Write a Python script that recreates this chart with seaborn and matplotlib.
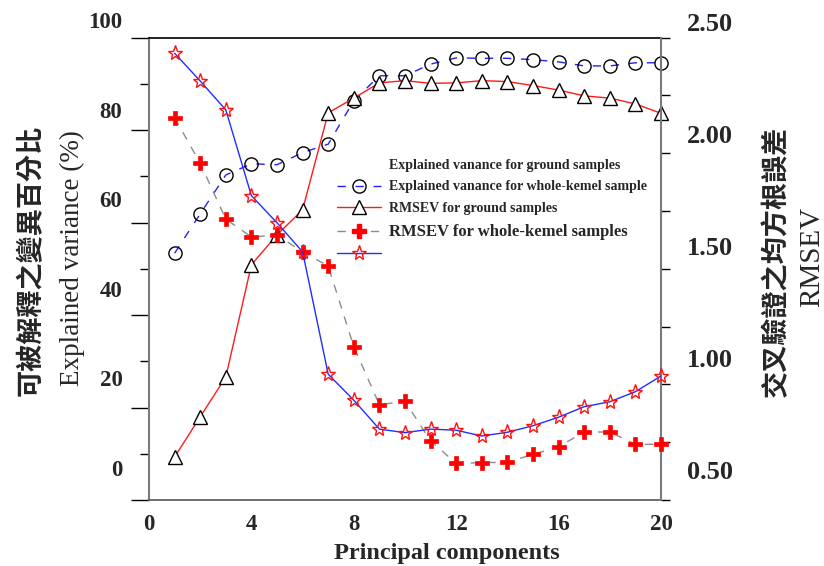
import matplotlib
matplotlib.use("Agg")
import matplotlib.pyplot as plt
from matplotlib.lines import Line2D
import numpy as np
import seaborn as sns

# principal component number
pcs = list(range(1, 21))

# left axis: explained variance (%)
var_circles = [48.5, 57.3, 66.0, 68.5, 68.3, 71.0, 72.9, 82.6, 88.2, 88.2,
               90.8, 92.2, 92.1, 92.1, 91.8, 91.3, 90.4, 90.4, 91.1, 91.1]
var_triangles = [2.9, 11.9, 20.8, 45.9, 52.6, 58.2, 79.9, 83.2, 86.6, 87.1,
                 86.5, 86.6, 87.1, 86.9, 86.0, 85.0, 83.7, 83.2, 81.9, 79.8]

# right axis: RMSEV
rmsev_plus = [2.086, 1.883, 1.633, 1.554, 1.562, 1.487, 1.424, 1.064, 0.805, 0.820,
              0.643, 0.543, 0.546, 0.548, 0.583, 0.617, 0.683, 0.683, 0.628, 0.628]
rmsev_stars = [2.374, 2.250, 2.121, 1.738, 1.617, 1.487, 0.941, 0.825, 0.696, 0.680,
               0.696, 0.691, 0.665, 0.682, 0.711, 0.749, 0.796, 0.818, 0.863, 0.933]

left_labels = [0, 20, 40, 60, 80, 100]
right_labels = [0.50, 1.00, 1.50, 2.00, 2.50]
x_labels = [0, 4, 8, 12, 16, 20]

legend_texts = ["Explained vanance for ground samples",
                "Explained vanance for whole-kemel sample",
                "RMSEV for ground samples",
                "RMSEV for whole-kemel samples"]

sns.set_style("white")
plt.rcParams['font.family'] = ['Liberation Serif', 'DejaVu Serif']
cjk = ['Noto Sans CJK TC', 'DejaVu Sans']

fig = plt.figure(figsize=(8.24, 5.66), dpi=100)
ax = fig.add_axes([149 / 824, 1 - 500 / 566, 512 / 824, 462.3 / 566])
ax2 = ax.twinx()

# left series
sns.lineplot(x=pcs, y=var_circles, ax=ax, color='#2222ee', lw=1.0,
             linestyle=(0, (6, 7)), marker='o', markersize=9.5,
             markerfacecolor='none', markeredgecolor='black', mew=1.0,
             clip_on=False, zorder=3)
sns.lineplot(x=pcs, y=var_triangles, ax=ax, color='#ff1a1a', lw=1.0,
             marker='^', markersize=9.5, markerfacecolor='white',
             markeredgecolor='black', mew=1.0, clip_on=False, zorder=3)

# right series
sns.lineplot(x=pcs, y=rmsev_plus, ax=ax2, color='#8c8c8c', lw=1.0,
             linestyle=(0, (6, 6)), marker='P', markersize=10,
             markerfacecolor='#ff0000', markeredgecolor='#ff0000', mew=0.5,
             clip_on=False, zorder=3)
sns.lineplot(x=pcs, y=rmsev_stars, ax=ax2, color='#1f2fff', lw=1.0,
             marker='*', markersize=11, markerfacecolor='none',
             markeredgecolor='#ff1010', mew=1.0, clip_on=False, zorder=4)

ax.set_xlim(0, 20)
ylo, yhi = (470 - 500) / 4.47, (470 - 37.7) / 4.47
ax.set_ylim(ylo, yhi)
rlo, rhi = 0.5 + (473 - 500) / 224, 0.5 + (473 - 37.7) / 224
ax2.set_ylim(rlo, rhi)

# spines
for side in ['left', 'right', 'top', 'bottom']:
    ax2.spines[side].set_visible(False)
ax.spines['right'].set_visible(False)
ax2.spines['right'].set_visible(True)
ax2.spines['right'].set_color('#7a7a7a')
ax2.spines['right'].set_linewidth(1.5)
ax.spines['left'].set_color('#7a7a7a')
ax.spines['left'].set_linewidth(1.5)
ax.spines['bottom'].set_color('#555555')
ax.spines['bottom'].set_linewidth(1.2)
ax.spines['top'].set_color('black')
ax.spines['top'].set_linewidth(1.2)

# left ticks: marks alternate long/short, labels sit between
lt = np.linspace(yhi, ylo, 11)
ax.set_yticks(lt[::2])
ax.set_yticks(lt[1::2], minor=True)
ax.tick_params(axis='y', which='major', length=13, width=1.0, color='black',
               direction='out', labelleft=False, left=True)
ax.tick_params(axis='y', which='minor', length=6.5, width=1.0, color='black',
               direction='out', left=True)
for v in left_labels:
    ax.text(-0.052, v, f"{v}", transform=ax.get_yaxis_transform(),
            ha='right', va='center', fontsize=16.5, fontweight='bold')

ax2.set_yticks(np.linspace(rlo, rhi, 9))
ax2.tick_params(axis='y', which='major', length=6.5, width=1.0, color='black',
                direction='out', labelright=False, right=True)
for v in right_labels:
    ax2.text(1.05, v, f"{v:.2f}", transform=ax2.get_yaxis_transform(),
             ha='left', va='center', fontsize=19, fontweight='bold')

ax.set_xticks(x_labels)
ax.set_xticklabels([str(v) for v in x_labels], fontsize=16.5, fontweight='bold')
ax.tick_params(axis='x', length=0, pad=10, bottom=True)
ax.grid(False)
ax2.grid(False)

# axis titles
fig.text(447 / 824, 1 - 553 / 566, "Principal components", ha='center', va='center',
         fontsize=17.5, fontweight='bold')
fig.text(31 / 824, 1 - 260 / 566, "可被解釋之變異百分比", rotation=90, ha='center',
         va='center', fontsize=19.5, fontweight='bold', family=cjk)
fig.text(72 / 824, 1 - 258 / 566, "Explained variance (%)", rotation=90, ha='center',
         va='center', fontsize=19.5)
fig.text(776 / 824, 1 - 261 / 566, "交叉驗證之均方根誤差", rotation=90, ha='center',
         va='center', fontsize=19.5, fontweight='bold', family=cjk)
fig.text(812 / 824, 1 - 257 / 566, "RMSEV", rotation=90, ha='center', va='center',
         fontsize=21)

# legend: texts sit one row above their handles, as in the source figure
h_blank = Line2D([], [], linestyle='none')
h_circ = Line2D([], [], color='#2222ee', lw=1.0, linestyle=(0, (6, 7)), marker='o',
                markersize=9.5, markerfacecolor='none', markeredgecolor='black')
h_tri = Line2D([], [], color='#ff1a1a', lw=1.0, marker='^', markersize=9.5,
               markerfacecolor='white', markeredgecolor='black')
h_plus = Line2D([], [], color='#8c8c8c', lw=1.0, linestyle=(0, (6, 6)), marker='P',
                markersize=10, markerfacecolor='#ff0000', markeredgecolor='#ff0000')
h_star = Line2D([], [], color='#1f2fff', lw=1.0, marker='*', markersize=11,
                markerfacecolor='none', markeredgecolor='#ff1010')
leg = ax.legend([h_blank, h_circ, h_tri, h_plus, h_star], legend_texts + [""],
                loc='upper left', bbox_to_anchor=(0.367, 0.738), frameon=False,
                borderpad=0, borderaxespad=0, handlelength=3.2, handletextpad=0.55,
                labelspacing=0.62, prop={'family': 'Liberation Serif', 'weight': 'bold',
                                         'size': 10})
leg.get_texts()[3].set_fontsize(12)

fig.savefig("out.png", dpi=100)
